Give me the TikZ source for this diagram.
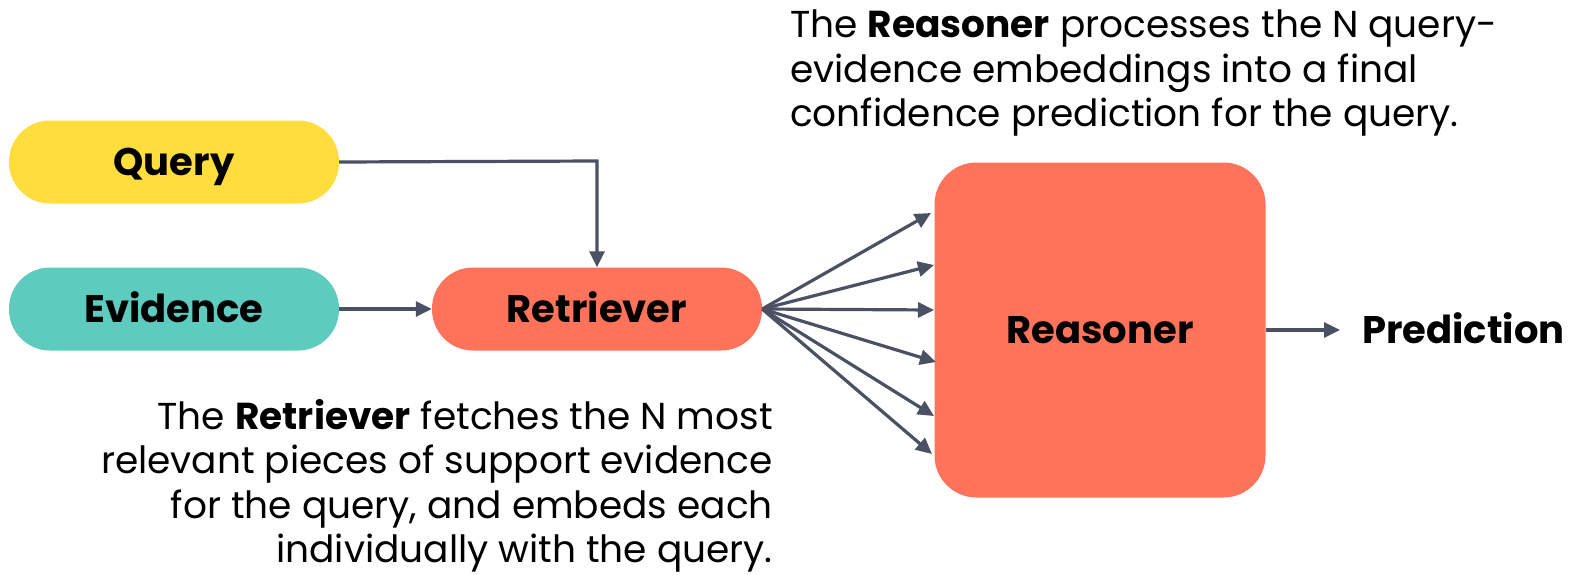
\documentclass[tikz,border=0pt]{standalone}
\usepackage{fontspec}
\setmainfont{Poppins}
\usetikzlibrary{arrows.meta}
\definecolor{qyellow}{HTML}{FFDD3C}
\definecolor{eteal}{HTML}{5DCBBE}
\definecolor{rred}{HTML}{FF735B}
\definecolor{arrowc}{HTML}{4A5163}
\tikzset{
  boldlab/.style={font=\fontsize{38.5}{44}\selectfont\bfseries, text height=27pt, text depth=0pt},
  pill/.style={rectangle, rounded corners=41pt, minimum width=330pt, minimum height=83pt, inner sep=0pt, boldlab},
  conn/.style={draw=arrowc, line width=3.2pt, -{Triangle[length=16pt,width=15pt]}},
  desc/.style={font=\fontsize{37.5}{44.5}\selectfont, inner sep=0pt}
}
\begin{document}
\begin{tikzpicture}[x=1pt,y=-1pt]
\useasboundingbox[fill=white] (0,0) rectangle (1569,574);
\node[pill, fill=qyellow] (query) at (174,162) {Query};
\node[pill, fill=eteal] (evid) at (174,309) {Evidence};
\node[pill, fill=rred] (retr) at (597,309) {Retriever};
\node[rectangle, rounded corners=42pt, fill=rred, minimum width=331pt, minimum height=335pt, inner sep=0pt, boldlab] (reas) at (1100,330) {Reasoner};
\node[anchor=west, inner sep=0pt, boldlab] (pred) at (1362,330) {Prediction};
\coordinate (qc) at (597,161);
\draw[conn] (query.east) -- (qc) -- (retr.north);
\draw[conn] (evid.east) -- (retr.west);
\coordinate (r1) at (931,213);
\coordinate (r2) at (934,265);
\coordinate (r3) at (934,310);
\coordinate (r4) at (936,362);
\coordinate (r5) at (934,416);
\coordinate (r6) at (932,454);
\foreach \t in {r1,r2,r3,r4,r5,r6} \draw[conn] (retr.east) -- (\t);
\coordinate (pa) at (1340,330);
\draw[conn] (reas.east) -- (pa);
\node[desc, align=left, anchor=west] (top) at (790,73) {The \textbf{Reasoner} processes the N query-\\evidence embeddings into a final\\confidence prediction for the query.};
\node[desc, align=right, anchor=east] (bot) at (773,486) {The \textbf{Retriever} fetches the N most\\relevant pieces of support evidence\\for the query, and embeds each\\individually with the query.};
\end{tikzpicture}
\end{document}
